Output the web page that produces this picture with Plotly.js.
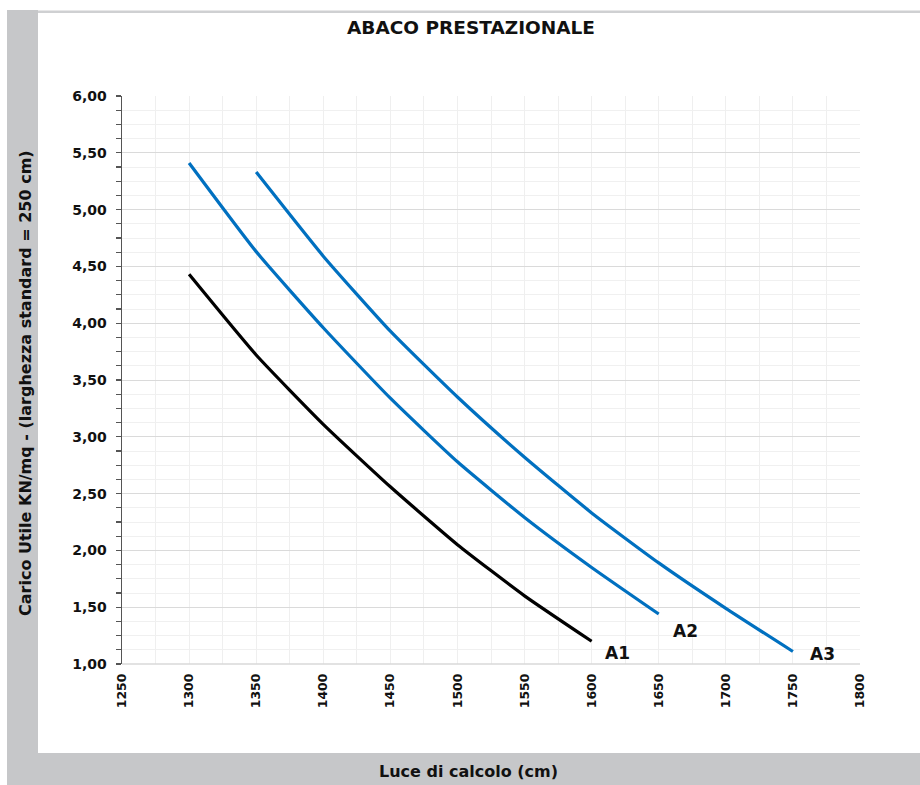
<!DOCTYPE html>
<html>
<head>
<meta charset="utf-8">
<script src="https://cdn.plot.ly/plotly-3.0.1.min.js"></script>
<style>
  html, body { margin: 0; padding: 0; background: #ffffff; }
  #chart { width: 920px; height: 785px; }
</style>
</head>
<body>
<div id="chart"></div>
<script>
// ---- data ----
const seriesNames = ["A1", "A2", "A3"];
const xA1 = [1300, 1350, 1400, 1450, 1500, 1550, 1600];
const yA1 = [4.43, 3.72, 3.11, 2.56, 2.05, 1.60, 1.20];
const xA2 = [1300, 1350, 1400, 1450, 1500, 1550, 1600, 1650];
const yA2 = [5.41, 4.63, 3.96, 3.34, 2.78, 2.29, 1.85, 1.44];
const xA3 = [1350, 1400, 1450, 1500, 1550, 1600, 1650, 1700, 1750];
const yA3 = [5.33, 4.59, 3.93, 3.35, 2.82, 2.33, 1.89, 1.49, 1.11];

const titleText = "ABACO PRESTAZIONALE";
const xTitle = "Luce di calcolo (cm)";
const yTitle = "Carico Utile KN/mq - (larghezza standard = 250 cm)";

// ---- styling ----
const FONT = "'DejaVu Sans', sans-serif";
const BLUE = "#0070C0";
const GRAY = "#c6c7c9";

const W = 920, H = 785;
const M = {l: 122, r: 60, t: 96, b: 121};
const pw = W - M.l - M.r, ph = H - M.t - M.b;
const px = v => (v - M.l) / pw;       // pixel x -> paper x
const py = v => (H - M.b - v) / ph;   // pixel y -> paper y

function trace(x, y, color) {
  return {
    x: x, y: y, type: "scatter", mode: "lines",
    line: {color: color, width: 3.2, shape: "spline", smoothing: 0.5},
    hoverinfo: "skip", showlegend: false
  };
}
const data = [
  trace(xA1, yA1, "#000000"),
  trace(xA2, yA2, BLUE),
  trace(xA3, yA3, BLUE)
];

function endLabel(name, xs, ys, dx, dy) {
  return {
    x: xs[xs.length - 1], y: ys[ys.length - 1], xref: "x", yref: "y",
    text: name, showarrow: false, xanchor: "left", yanchor: "middle",
    xshift: dx, yshift: dy,
    font: {family: FONT, size: 17, color: "#111111", weight: 700}
  };
}

const layout = {
  width: W, height: H,
  margin: M,
  paper_bgcolor: "#ffffff",
  plot_bgcolor: "#ffffff",
  separators: ",.",
  title: {
    text: titleText,
    x: 471 / W, xref: "container", xanchor: "center",
    y: 1 - 28 / H, yref: "container", yanchor: "middle",
    font: {family: FONT, size: 18.5, color: "#111111", weight: 700}
  },
  xaxis: {
    range: [1250, 1800],
    tick0: 1250, dtick: 50,
    tickformat: "d",
    tickangle: -90,
    ticks: "",
    showline: false,
    zeroline: false,
    showgrid: true,
    gridcolor: "#efefef",
    gridwidth: 1,
    minor: {dtick: 25, showgrid: true, gridcolor: "#efefef", gridwidth: 1},
    tickfont: {family: FONT, size: 12.5, color: "#111111", weight: 700},
    ticklabelstandoff: 6,
    fixedrange: true
  },
  yaxis: {
    range: [1, 6],
    tick0: 1, dtick: 0.5,
    tickformat: ".2f",
    ticks: "outside", ticklen: 5, tickwidth: 1.2, tickcolor: "#555555",
    showline: true, linecolor: "#555555", linewidth: 1.5,
    zeroline: false,
    showgrid: true, gridcolor: "#dadada", gridwidth: 1,
    minor: {dtick: 0.125, ticks: "outside", ticklen: 5, tickwidth: 1.2, tickcolor: "#555555",
            showgrid: true, gridcolor: "#f0f0f0", gridwidth: 1},
    tickfont: {family: FONT, size: 14, color: "#111111", weight: 700},
    ticklabelstandoff: 6,
    fixedrange: true
  },
  shapes: [
    // left gray band
    {type: "rect", xref: "paper", yref: "paper", layer: "below",
     x0: px(7), x1: px(38), y0: py(785), y1: py(10),
     fillcolor: GRAY, line: {width: 0}},
    // bottom gray band
    {type: "rect", xref: "paper", yref: "paper", layer: "below",
     x0: px(7), x1: px(920), y0: py(785), y1: py(753),
     fillcolor: GRAY, line: {width: 0}},
    // top thin gray line
    {type: "rect", xref: "paper", yref: "paper", layer: "below",
     x0: px(38), x1: px(920), y0: py(13), y1: py(10.5),
     fillcolor: "#cfd0d2", line: {width: 0}},
    // bottom axis line (1,00)
    {type: "line", xref: "paper", yref: "paper",
     x0: 0, x1: 1, y0: 0, y1: 0, line: {color: "#d9d9d9", width: 1.5}}
  ],
  annotations: [
    {text: xTitle, xref: "paper", yref: "paper", x: px(468), y: py(771),
     showarrow: false, xanchor: "center", yanchor: "middle",
     font: {family: FONT, size: 16, color: "#111111", weight: 700}},
    {text: yTitle, xref: "paper", yref: "paper", x: px(26), y: py(383),
     showarrow: false, xanchor: "center", yanchor: "middle", textangle: -90,
     font: {family: FONT, size: 16, color: "#111111", weight: 700}},
    endLabel(seriesNames[0], xA1, yA1, 11, -12),
    endLabel(seriesNames[1], xA2, yA2, 12, -17),
    endLabel(seriesNames[2], xA3, yA3, 15, -2)
  ]
};

Plotly.newPlot("chart", data, layout, {displayModeBar: false, staticPlot: true});
</script>
</body>
</html>
